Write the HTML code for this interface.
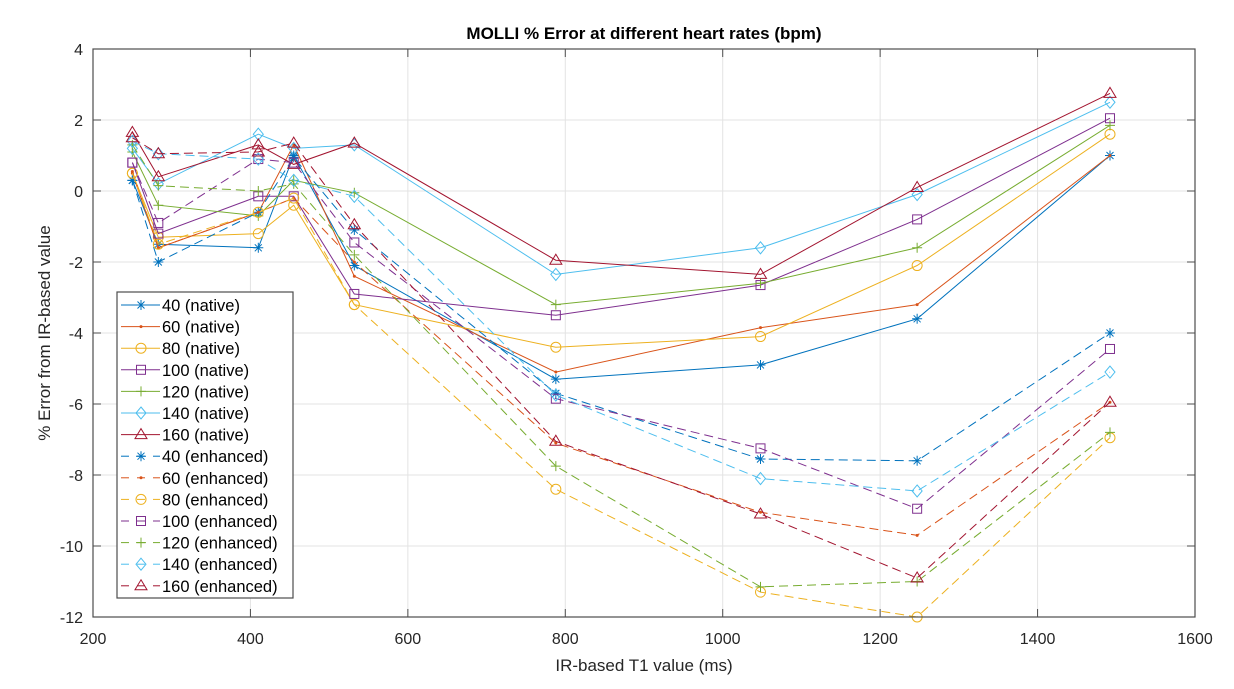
<!DOCTYPE html>
<html><head><meta charset="utf-8"><style>
body{margin:0;background:#fff;}
svg{display:block;font-family:"Liberation Sans",Arial,sans-serif;}
</style></head><body>
<svg id="chart" width="1234" height="689" viewBox="0 0 1234 689" xmlns="http://www.w3.org/2000/svg">
<rect width="1234" height="689" fill="#fff"/>
<g id="grid"></g>
<g id="series"></g>
<rect x="93" y="49" width="1102" height="568" fill="none" stroke="#4d4d4d" stroke-width="1.2"/>
<g id="ticks"></g>
<text x="644" y="39" text-anchor="middle" font-size="17" font-weight="bold" fill="#000">MOLLI % Error at different heart rates (bpm)</text>
<text x="644" y="671" text-anchor="middle" font-size="17" fill="#262626">IR-based T1 value (ms)</text>
<text transform="translate(50,333) rotate(-90)" text-anchor="middle" font-size="17" fill="#262626">% Error from IR-based value</text>
<g id="legend"></g>
</svg>
<script>
const xVals=[250,283,410,455,532,788,1048,1247,1492];
const seriesNames=["40 (native)","60 (native)","80 (native)","100 (native)","120 (native)","140 (native)","160 (native)","40 (enhanced)","60 (enhanced)","80 (enhanced)","100 (enhanced)","120 (enhanced)","140 (enhanced)","160 (enhanced)"];
const n40=[0.3,-1.5,-1.6,1.0,-2.1,-5.3,-4.9,-3.6,1.0];
const n60=[0.5,-1.6,-0.6,1.3,-2.4,-5.1,-3.85,-3.2,1.0];
const n80=[0.5,-1.3,-1.2,-0.4,-3.2,-4.4,-4.1,-2.1,1.6];
const n100=[0.8,-1.2,-0.15,-0.15,-2.9,-3.5,-2.65,-0.8,2.05];
const n120=[1.1,-0.4,-0.7,0.3,-0.05,-3.2,-2.6,-1.6,1.85];
const n140=[1.2,0.2,1.6,1.2,1.3,-2.35,-1.6,-0.1,2.5];
const n160=[1.65,0.4,1.3,0.75,1.35,-1.95,-2.35,0.1,2.75];
const e40=[0.3,-2.0,-0.6,0.95,-1.1,-5.7,-7.55,-7.6,-4.0];
const e60=[0.55,-1.6,-0.6,-0.2,-2.0,-7.1,-9.05,-9.7,-5.95];
const e80=[0.5,-1.5,-0.6,-0.2,-3.2,-8.4,-11.3,-12.0,-6.95];
const e100=[0.8,-0.9,0.9,0.8,-1.45,-5.85,-7.25,-8.95,-4.45];
const e120=[1.3,0.15,0.0,0.2,-1.8,-7.75,-11.15,-11.0,-6.8];
const e140=[1.4,1.05,0.9,0.3,-0.15,-5.75,-8.1,-8.45,-5.1];
const e160=[1.5,1.05,1.1,1.35,-0.95,-7.05,-9.1,-10.9,-5.95];
const xTicks=[200,400,600,800,1000,1200,1400,1600];
const yTicks=[4,2,0,-2,-4,-6,-8,-10,-12];

const NS="http://www.w3.org/2000/svg";
const X0=93,X1=1195,Y0=49,Y1=617;
const xs=v=>X0+(v-200)/1400*(X1-X0);
const ys=v=>Y0+(4-v)/16*(Y1-Y0);
function mk(tag,attrs,parent){const e=document.createElementNS(NS,tag);for(const k in attrs)e.setAttribute(k,attrs[k]);parent.appendChild(e);return e;}
const grid=document.getElementById('grid'),ticks=document.getElementById('ticks');
xTicks.forEach(t=>{
  const x=xs(t);
  const g=mk('line',{x1:x,x2:x,y1:Y0,y2:Y1,stroke:'#e3e3e3','stroke-width':1},grid);
  
  
  mk('line',{x1:x,x2:x,y1:Y1,y2:Y1-8,stroke:'#4d4d4d'},ticks);
  mk('line',{x1:x,x2:x,y1:Y0,y2:Y0+8,stroke:'#4d4d4d'},ticks);
  const tx=mk('text',{x:x,y:Y1+27,'text-anchor':'middle','font-size':16,fill:'#262626'},ticks);
  tx.textContent=t;
  
  
});
yTicks.forEach(t=>{
  const y=ys(t);
  const g=mk('line',{x1:X0,x2:X1,y1:y,y2:y,stroke:'#e3e3e3','stroke-width':1},grid);
  
  
  mk('line',{x1:X0,x2:X0+8,y1:y,y2:y,stroke:'#4d4d4d'},ticks);
  mk('line',{x1:X1,x2:X1-8,y1:y,y2:y,stroke:'#4d4d4d'},ticks);
  const tx=mk('text',{x:X0-10,y:y+6,'text-anchor':'end','font-size':16,fill:'#262626'},ticks);
  tx.textContent=t;
  
  
});
const colors=['#0072BD','#D95319','#EDB120','#7E2F8E','#77AC30','#4DBEEE','#A2142F'];
const markers=['star','dot','circle','square','plus','diamond','triangle'];
const allData=[n40,n60,n80,n100,n120,n140,n160,e40,e60,e80,e100,e120,e140,e160];
function marker(type,x,y,c,parent){
  const s=5;
  const a={fill:'none',stroke:c,'stroke-width':1};
  switch(type){
    case 'star':mk('path',Object.assign({d:`M${x-s} ${y}H${x+s}M${x} ${y-s}V${y+s}M${x-s*.7} ${y-s*.7}L${x+s*.7} ${y+s*.7}M${x-s*.7} ${y+s*.7}L${x+s*.7} ${y-s*.7}`},a),parent);break;
    case 'dot':mk('circle',{cx:x,cy:y,r:1.5,fill:c},parent);break;
    case 'circle':mk('circle',Object.assign({cx:x,cy:y,r:s},a),parent);break;
    case 'square':mk('rect',Object.assign({x:x-s+.5,y:y-s+.5,width:2*s-1,height:2*s-1},a),parent);break;
    case 'plus':mk('path',Object.assign({d:`M${x-s} ${y}H${x+s}M${x} ${y-s}V${y+s}`},a),parent);break;
    case 'diamond':mk('path',Object.assign({d:`M${x} ${y-s-1}L${x+s} ${y}L${x} ${y+s+1}L${x-s} ${y}Z`},a),parent);break;
    case 'triangle':mk('path',Object.assign({d:`M${x} ${y-s-1}L${x+s+1} ${y+s-1}L${x-s-1} ${y+s-1}Z`},a),parent);break;
  }
}
const sg=document.getElementById('series');
allData.forEach((d,i)=>{
  const c=colors[i%7],m=markers[i%7],dash=i>=7;
  const g=mk('g',{},sg);
  
  
  const pts=d.map((v,j)=>xs(xVals[j]).toFixed(1)+','+ys(v).toFixed(1)).join(' ');
  const pl=mk('polyline',{points:pts,fill:'none',stroke:c,'stroke-width':1,'stroke-dasharray':dash?'9,5':'none'},g);
  
  
  d.forEach((v,j)=>marker(m,xs(xVals[j]),ys(v),c,g));
});
const lg=document.getElementById('legend');
const lb=mk('rect',{x:117,y:292,width:176,height:306,fill:'#fff',stroke:'#4d4d4d','stroke-width':1.2},lg);


seriesNames.forEach((nm,i)=>{
  const y=305+i*21.6,c=colors[i%7];
  const g=mk('g',{},lg);
  
  
  if(i<7){mk('line',{x1:121,x2:160,y1:y,y2:y,stroke:c},g);}
  else{mk('line',{x1:121,x2:129,y1:y,y2:y,stroke:c},g);mk('line',{x1:137,x2:145,y1:y,y2:y,stroke:c},g);mk('line',{x1:153,x2:160,y1:y,y2:y,stroke:c},g);}
  marker(markers[i%7],141,y,c,g);
  const t=mk('text',{x:162,y:y+6,'font-size':16.5,fill:'#000'},g);
  t.textContent=nm;
});
</script>
</body></html>
